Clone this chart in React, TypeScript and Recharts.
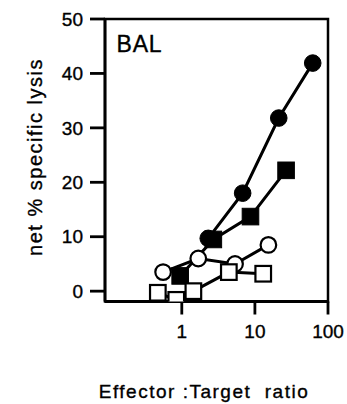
import React from 'react';
import { LineChart, Line, XAxis, YAxis, ReferenceArea, Label } from 'recharts';

const filledCircleX = [2.3, 6.8, 21.2, 61.8];
const filledCircleY = [9.7, 18.0, 31.8, 41.9];
const filledSquareX = [0.95, 2.7, 8.7, 26.7];
const filledSquareY = [2.8, 9.5, 13.7, 22.2];
const openCircleX = [0.555, 1.68, 5.35, 15.3];
const openCircleY = [3.5, 6.0, 5.0, 8.5];
const openSquareX = [0.47, 0.84, 1.44, 4.4, 13];
const openSquareY = [-0.3, -1.6, 0.0, 3.5, 3.2];
const xTicks = [1, 10, 100];
const yTicks = [0, 10, 20, 30, 40, 50];
const xLabel = 'Effector :Target\u00a0 ratio';
const yLabel = 'net % specific lysis';
const panelLabel = 'BAL';

const X_DOMAIN: [number, number] = [0.089, 100];
const Y_DOMAIN: [number, number] = [-1.9, 50];

const FONT = '"Liberation Sans", Arial, Helvetica, sans-serif';

const mk = (xs: number[], ys: number[]) => xs.map((x, i) => ({ x, y: ys[i] }));

const R = 8.3;

const FilledCircle = (p: any) => <circle key={`fc${p.index}`} cx={p.cx} cy={p.cy} r={R} fill="#000" stroke="#000" strokeWidth={1} />;
const OpenCircle = (p: any) => <circle key={`oc${p.index}`} cx={p.cx} cy={p.cy} r={R - 0.5} fill="#fff" stroke="#000" strokeWidth={2.2} />;
const FilledSquare = (p: any) => <rect key={`fs${p.index}`} x={p.cx - R} y={p.cy - R} width={2 * R} height={2 * R} fill="#000" stroke="#000" strokeWidth={1} />;
const OpenSquare = (p: any) => <rect key={`os${p.index}`} x={p.cx - R + 0.5} y={p.cy - R + 0.5} width={2 * R - 1} height={2 * R - 1} fill="#fff" stroke="#000" strokeWidth={2.2} />;

const textStyle = { stroke: '#000', strokeWidth: 0.35 };

export default function App() {
  return (
    <div>
      <style>{`body{margin:0;overflow:hidden;background:#fff}`}</style>
      <LineChart width={347} height={404} margin={{ top: 19, right: 19, left: 0, bottom: 0 }}>
        <XAxis
          dataKey="x"
          type="number"
          scale="log"
          domain={X_DOMAIN}
          allowDataOverflow
          ticks={xTicks}
          tickSize={13}
          tickMargin={10}
          height={102.5}
          axisLine={{ stroke: '#000', strokeWidth: 2.8 }}
          tickLine={{ stroke: '#000', strokeWidth: 2.8 }}
          tick={{ fill: '#000', fontSize: 19, fontFamily: FONT, ...textStyle }}
          interval={0}
        >
          <Label
            content={() => (
              <text x={204} y={398} textAnchor="middle" fontSize={19} fontFamily={FONT} letterSpacing={1.5} fill="#000" {...textStyle}>
                {xLabel}
              </text>
            )}
          />
        </XAxis>
        <YAxis
          type="number"
          domain={Y_DOMAIN}
          allowDataOverflow
          ticks={yTicks}
          tickSize={15}
          tickMargin={7}
          width={105}
          axisLine={{ stroke: '#000', strokeWidth: 2.8 }}
          tickLine={{ stroke: '#000', strokeWidth: 2.8 }}
          tick={{ fill: '#000', fontSize: 19, fontFamily: FONT, ...textStyle }}
          interval={0}
        >
          <Label
            content={() => (
              <g>
                <text x={41.5} y={157} transform="rotate(-90 41.5 157)" textAnchor="middle" fontSize={20} fontFamily={FONT} letterSpacing={1.5} fill="#000" {...textStyle}>
                  {yLabel}
                </text>
                <text x={116.5} y={51.5} fontSize={23} fontFamily={FONT} letterSpacing={0.8} fill="#000" {...textStyle}>
                  {panelLabel}
                </text>
              </g>
            )}
          />
        </YAxis>
        <ReferenceArea x1={X_DOMAIN[0]} x2={X_DOMAIN[1]} y1={Y_DOMAIN[0]} y2={Y_DOMAIN[1]} fill="none" stroke="#000" strokeWidth={2.5} ifOverflow="visible" />
        <Line data={mk(filledCircleX, filledCircleY)} dataKey="y" stroke="#000" strokeWidth={3} dot={FilledCircle} activeDot={false} isAnimationActive={false} />
        <Line data={mk(filledSquareX, filledSquareY)} dataKey="y" stroke="#000" strokeWidth={3} dot={FilledSquare} activeDot={false} isAnimationActive={false} />
        <Line data={mk(openCircleX, openCircleY)} dataKey="y" stroke="#000" strokeWidth={3} dot={OpenCircle} activeDot={false} isAnimationActive={false} />
        <Line data={mk(openSquareX, openSquareY)} dataKey="y" stroke="#000" strokeWidth={3} dot={OpenSquare} activeDot={false} isAnimationActive={false} />
      </LineChart>
    </div>
  );
}
